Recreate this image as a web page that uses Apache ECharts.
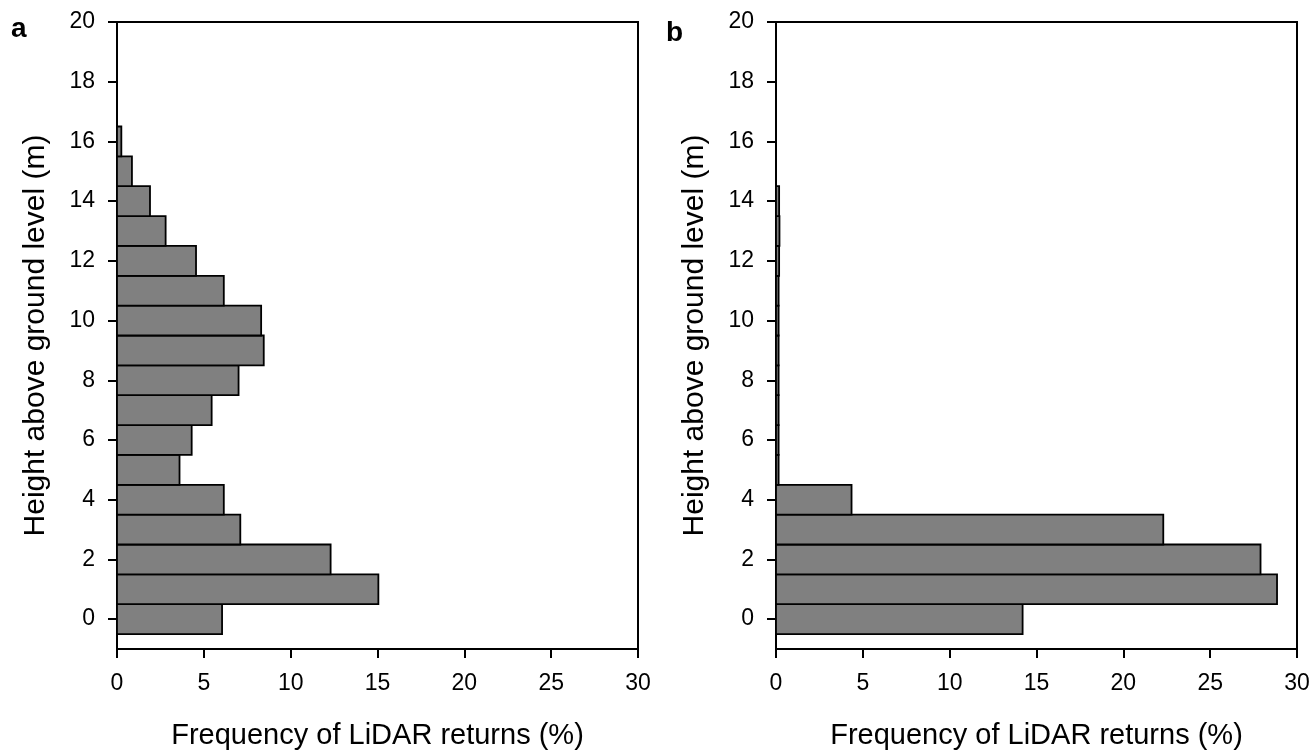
<!DOCTYPE html>
<html style="height: 100%">
<head>
    <meta charset="utf-8">
    <title>LiDAR returns</title>
    <style>
    body { margin: 0; background: #fff; }
    #container { width: 1312px; height: 751px; }
    </style>
</head>
<body>
    <div id="container"></div>
    <script type="text/javascript" src="https://cdn.jsdelivr.net/npm/echarts@6/dist/echarts.min.js"></script>
    <script type="text/javascript">
    // bin centres (m) and frequency (%) for each panel
    var heightsA = [0, 1, 2, 3, 4, 5, 6, 7, 8, 9, 10, 11, 12, 13, 14, 15, 16];
    var freqA = [6.05, 15.05, 12.3, 7.1, 6.15, 3.6, 4.3, 5.45, 7.0, 8.45, 8.3, 6.15, 4.55, 2.8, 1.9, 0.86, 0.25];
    var heightsB = [0, 1, 2, 3, 4, 5, 6, 7, 8, 9, 10, 11, 12, 13, 14];
    var freqB = [14.2, 28.85, 27.9, 22.3, 4.35, 0.15, 0.15, 0.15, 0.15, 0.15, 0.15, 0.15, 0.18, 0.2, 0.18];
    var yTicks = [0, 2, 4, 6, 8, 10, 12, 14, 16, 18, 20];
    var panelLetters = ['a', 'b'];

    var font = "'Liberation Sans', Arial, sans-serif";
    var dom = document.getElementById('container');
    var myChart = echarts.init(dom);

    function pairs(h, f) {
        var out = [];
        for (var i = 0; i < h.length; i++) out.push([f[i], h[i]]);
        return out;
    }

    // one rect per bin, spanning height-0.5 .. height+0.5
    function renderBin(params, api) {
        var f = api.value(0), h = api.value(1);
        var p0 = api.coord([0, h + 0.5]);
        var p1 = api.coord([f, h - 0.5]);
        return {
            type: 'rect',
            shape: { x: p0[0], y: p0[1], width: p1[0] - p0[0], height: p1[1] - p0[1] },
            style: { fill: '#808080', stroke: '#000', lineWidth: 1.8 }
        };
    }

    function xAx(i) {
        return {
            type: 'value', gridIndex: i, min: 0, max: 30, interval: 5,
            name: 'Frequency of LiDAR returns (%)', nameLocation: 'middle', nameGap: 72,
            nameTextStyle: { fontSize: 29, color: '#000', fontFamily: font },
            axisLine: { show: true, onZero: false, lineStyle: { color: '#000', width: 2 } },
            axisTick: { show: true, length: 9, lineStyle: { color: '#000', width: 2 } },
            axisLabel: { fontSize: 23, color: '#000', fontFamily: font, margin: 23 },
            splitLine: { show: false }
        };
    }
    function yAx(i) {
        return {
            type: 'value', gridIndex: i, min: -1, max: 20,
            name: 'Height above ground level (m)', nameLocation: 'middle', nameGap: 66,
            nameTextStyle: { fontSize: 30, color: '#000', fontFamily: font },
            axisLine: { show: true, onZero: false, lineStyle: { color: '#000', width: 2 } },
            axisTick: { show: true, length: 9, customValues: yTicks, lineStyle: { color: '#000', width: 2 } },
            axisLabel: { fontSize: 23, color: '#000', fontFamily: font, margin: 22, customValues: yTicks },
            splitLine: { show: false }
        };
    }

    var option = {
        animation: false,
        backgroundColor: '#fff',
        grid: [
            { left: 117, right: 674, top: 22, bottom: 102, outerBoundsMode: 'none', show: true, borderColor: '#000', borderWidth: 2 },
            { left: 776, right: 15, top: 22, bottom: 102, outerBoundsMode: 'none', show: true, borderColor: '#000', borderWidth: 2 }
        ],
        xAxis: [xAx(0), xAx(1)],
        yAxis: [yAx(0), yAx(1)],
        graphic: [
            { type: 'text', left: 11, top: 15, style: { text: panelLetters[0], font: 'bold 28px ' + font, fill: '#000' } },
            { type: 'text', left: 666, top: 19, style: { text: panelLetters[1], font: 'bold 28px ' + font, fill: '#000' } }
        ],
        series: [
            { type: 'custom', xAxisIndex: 0, yAxisIndex: 0, renderItem: renderBin, encode: { x: 0, y: 1 }, data: pairs(heightsA, freqA) },
            { type: 'custom', xAxisIndex: 1, yAxisIndex: 1, renderItem: renderBin, encode: { x: 0, y: 1 }, data: pairs(heightsB, freqB) }
        ]
    };
    myChart.setOption(option);
    </script>
</body>
</html>
